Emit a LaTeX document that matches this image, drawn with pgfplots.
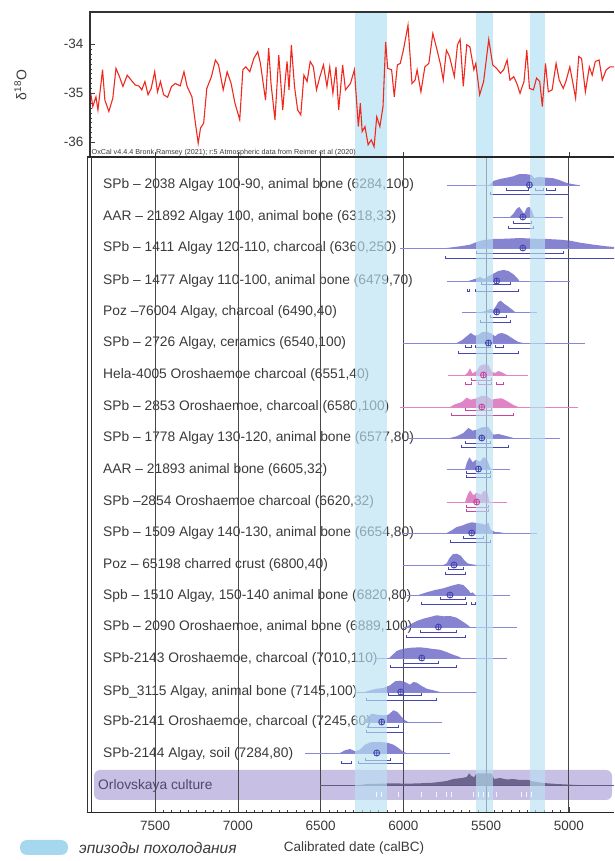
\documentclass[border=0pt]{standalone}
\usepackage{pgfplots}
\pgfplotsset{compat=1.18}
\usepackage{fontspec}
\setmainfont{Liberation Sans}
\definecolor{dpur}{RGB}{104,100,196}
\definecolor{lpur}{RGB}{135,135,215}
\definecolor{bpur}{RGB}{70,70,175}
\definecolor{dpink}{RGB}{212,92,178}
\definecolor{lpink}{RGB}{228,130,195}
\definecolor{bpink}{RGB}{200,70,160}
\definecolor{coldtop}{RGB}{203,234,247}
\definecolor{cold}{RGB}{185,225,243}
\definecolor{legblue}{RGB}{165,215,238}
\definecolor{orl}{RGB}{200,192,228}
\definecolor{orld}{RGB}{98,92,132}
\definecolor{redl}{RGB}{240,40,30}
\definecolor{txt}{RGB}{58,58,58}
\pgfplotsset{
  dist/.style={fill=dpur, fill opacity=0.8, draw=none, mark=none},
  distp/.style={fill=dpink, fill opacity=0.75, draw=none, mark=none},
  hl/.style={draw=lpur, line width=0.5pt, mark=none},
  hlp/.style={draw=lpink, line width=0.5pt, mark=none},
  med/.style={only marks, mark=oplus, mark size=3pt, mark options={draw=bpur, fill=white, line width=0.9pt}},
  medp/.style={only marks, mark=oplus, mark size=3pt, mark options={draw=bpink, fill=white, line width=0.9pt}},
}
\newcommand{\br}[5][bpur]{\addplot[draw=#1, line width=0.9pt, mark=none] coordinates {(#2,#5) (#2,#4) (#3,#4) (#3,#5)};}
\newcommand{\lab}[2]{\node[anchor=west, text=txt, font=\fontsize{13.8}{16}\selectfont, inner sep=0pt] at (103pt,#1pt) {#2};}
\begin{document}
\begin{tikzpicture}
\useasboundingbox (0,0) rectangle (614pt,861pt);
% Orlovskaya band
\fill[orl, rounded corners=6pt] (94pt,61pt) rectangle (612pt,91pt);
% row labels (y = 861 - y_img)
\lab{676}{SPb – 2038 Algay 100-90, animal bone (6284,100)}
\lab{644}{AAR – 21892 Algay 100, animal bone (6318,33)}
\lab{613}{SPb – 1411 Algay 120-110, charcoal (6360,250)}
\lab{580}{SPb – 1477 Algay 110-100, animal bone (6479,70)}
\lab{549}{Poz –76004 Algay, charcoal (6490,40)}
\lab{518}{SPb – 2726 Algay, ceramics (6540,100)}
\lab{486}{Hela-4005 Oroshaemoe charcoal (6551,40)}
\lab{454}{SPb – 2853 Oroshaemoe, charcoal (6580,100)}
\lab{423}{SPb – 1778 Algay 130-120, animal bone (6577,80)}
\lab{391}{AAR – 21893 animal bone (6605,32)}
\lab{359}{SPb –2854 Oroshaemoe charcoal (6620,32)}
\lab{328}{SPb – 1509 Algay 140-130, animal bone (6654,80)}
\lab{296}{Poz – 65198 charred crust (6800,40)}
\lab{265}{Spb – 1510 Algay, 150-140 animal bone (6820,80)}
\lab{234}{SPb – 2090 Oroshaemoe, animal bone (6889,100)}
\lab{202}{SPb-2143 Oroshaemoe, charcoal (7010,110)}
\lab{169}{SPb\_3115 Algay, animal bone (7145,100)}
\lab{139}{SPb-2141 Oroshaemoe, charcoal (7245,60)}
\lab{107}{SPb-2144 Algay, soil (7284,80)}
\node[anchor=west, text=orld!80!black, font=\fontsize{13.8}{16}\selectfont, inner sep=0pt] at (98pt,75pt) {Orlovskaya culture};

% ---------------- top panel -----------------
\begin{axis}[
  at={(90pt,704pt)}, anchor=south west, scale only axis,
  width=524pt, height=145pt,
  x dir=reverse, xmin=4727, xmax=7894, ymin=-36.30, ymax=-33.34,
  axis line style={draw=none},
  ytick={-36,-35,-34}, minor y tick num=9, ytick pos=left,
  xtick={5000,5500,6000,6500,7000,7500}, xticklabels={}, xtick pos=bottom,
  tick align=inside, major tick length=5pt, minor tick length=2.5pt,
  tick style={draw=black!75, line width=0.5pt},
  yticklabel style={font=\fontsize{13.5}{15}\selectfont, text=txt, xshift=-3pt},
  /pgf/number format/assume math mode=true,
]
\addplot[fill=coldtop, draw=none, mark=none] coordinates {(6294,-36.30) (6294,-33.34) (6100,-33.34) (6100,-36.30)};
\addplot[fill=coldtop, draw=none, mark=none] coordinates {(5560,-36.30) (5560,-33.34) (5459,-33.34) (5459,-36.30)};
\addplot[fill=coldtop, draw=none, mark=none] coordinates {(5236,-36.30) (5236,-33.34) (5145,-33.34) (5145,-36.30)};
\addplot[redl, line width=1.1pt, mark=none] coordinates {
(7894,-34.90) (7877,-35.27) (7858,-35.07) (7846,-35.34) (7818,-34.52) (7804,-35.14) (7780,-35.37) (7756,-35.10) (7737,-34.49) (7716,-34.66) (7695,-34.86) (7669,-34.63) (7645,-34.73) (7621,-34.83) (7598,-34.85) (7581,-34.93) (7562,-34.76) (7543,-35.03) (7524,-34.90) (7503,-34.56) (7486,-34.97) (7468,-34.76) (7449,-35.03) (7425,-35.08) (7401,-34.86) (7378,-34.80) (7349,-34.85) (7326,-34.56) (7307,-34.86) (7278,-35.07) (7254,-35.68) (7240,-36.02) (7226,-35.71) (7207,-35.61) (7188,-34.90) (7160,-34.66) (7136,-34.32) (7117,-34.42) (7089,-34.93) (7065,-34.56) (7041,-34.80) (7018,-35.20) (6989,-35.54) (6970,-34.52) (6952,-34.46) (6928,-34.56) (6904,-34.29) (6880,-34.15) (6864,-34.39) (6833,-35.14) (6814,-34.08) (6800,-34.80) (6776,-35.54) (6753,-34.22) (6729,-35.34) (6715,-34.76) (6703,-34.35) (6691,-34.93) (6677,-34.01) (6658,-34.86) (6639,-35.34) (6620,-35.44) (6601,-34.63) (6582,-34.76) (6563,-34.35) (6544,-34.46) (6525,-34.93) (6507,-34.69) (6483,-34.42) (6462,-34.86) (6445,-34.46) (6426,-35.00) (6407,-34.46) (6391,-35.34) (6367,-34.42) (6350,-34.93) (6320,-34.80) (6296,-34.52) (6272,-35.68) (6260,-35.20) (6249,-35.78) (6232,-35.68) (6213,-36.05) (6194,-35.95) (6177,-36.09) (6161,-35.48) (6142,-35.68) (6123,-35.27) (6107,-33.95) (6095,-34.49) (6071,-34.52) (6055,-35.07) (6036,-34.42) (6019,-34.39) (6000,-34.12) (5972,-33.61) (5948,-34.80) (5929,-34.73) (5917,-34.52) (5894,-34.97) (5870,-34.46) (5846,-34.39) (5822,-33.78) (5799,-34.08) (5775,-34.42) (5759,-34.73) (5740,-34.12) (5721,-34.25) (5711,-34.39) (5692,-34.66) (5673,-34.01) (5657,-33.90) (5638,-34.86) (5617,-34.01) (5598,-34.05) (5574,-34.52) (5562,-34.39) (5539,-35.03) (5515,-34.76) (5484,-33.90) (5460,-34.42) (5437,-34.49) (5413,-34.59) (5394,-34.52) (5373,-34.32) (5356,-34.73) (5333,-34.66) (5314,-34.80) (5295,-35.00) (5271,-34.76) (5254,-34.12) (5238,-34.90) (5214,-34.93) (5195,-34.69) (5176,-34.76) (5160,-35.27) (5141,-34.39) (5124,-34.97) (5101,-34.93) (5077,-34.39) (5058,-34.73) (5034,-34.90) (5018,-34.76) (4994,-34.46) (4975,-34.80) (4959,-35.10) (4940,-34.25) (4923,-34.29) (4900,-34.97) (4876,-34.46) (4859,-34.63) (4840,-34.35) (4817,-34.32) (4798,-34.73) (4774,-34.52) (4750,-34.46) (4727,-34.46)};
\end{axis}

% ---------------- bottom panel -----------------
\begin{axis}[
  at={(90pt,48pt)}, anchor=south west, scale only axis,
  width=524pt, height=656pt,
  x dir=reverse, xmin=4727, xmax=7894, ymin=48, ymax=704,
  axis line style={draw=none}, ytick=\empty,
  xtick={5000,5500,6000,6500,7000,7500}, minor x tick num=9, xtick pos=bottom,
  tick align=inside, major tick length=6pt, minor tick length=3pt,
  tick style={draw=black!75, line width=0.5pt},
  xmajorgrids, major grid style={draw=black!72, line width=0.8pt},
  xticklabel style={font=\fontsize{13.5}{15}\selectfont, text=txt, yshift=-5pt},
  /pgf/number format/1000 sep={}, /pgf/number format/assume math mode=true,
]
% Row 1
\addplot[hl] coordinates {(5738,676) (4932,676)};
\addplot[dist] coordinates {(5480,676) (5456,680) (5416,682) (5375,683.3) (5335,684.7) (5305,686.7) (5264,687) (5224,686) (5210,682.7) (5184,684) (5133,683.3) (5093,682.7) (5053,680.7) (5012,678) (4972,676.7) (4942,676)};
\br{5375}{5244}{671}{673}\br{5204}{5154}{671}{673}\br{5133}{5083}{671}{673}
\br{5476}{5002}{667}{669}
\addplot[med] coordinates {(5238,676)};
% Row 2
\addplot[hl] coordinates {(5456,644) (5033,644)};
\addplot[dist] coordinates {(5355,644) (5335,647.3) (5315,652.3) (5299,654) (5285,650.7) (5270,647.3) (5254,653.3) (5238,654) (5224,650.7) (5210,644)};
\br{5335}{5224}{638}{640}
\br{5365}{5214}{633}{635}
\addplot[med] coordinates {(5278,644)};
% Row 3
\addplot[hl] coordinates {(6020,613) (4727,613)};
\addplot[dist] coordinates {(5738,613) (5657,614.7) (5597,616.3) (5557,619) (5516,621) (5456,622) (5375,622.3) (5295,623) (5214,622.3) (5133,622) (5053,621.3) (4992,620.3) (4932,618.3) (4851,616.3) (4771,614.7) (4727,614) (4727,613)};
\br{5557}{5033}{608}{610}
\br{5744}{4700}{603}{605}
\addplot[med] coordinates {(5278,613)};
% Row 4
\addplot[hl] coordinates {(5738,580) (4992,580)};
\addplot[dist] coordinates {(5607,580) (5587,581) (5557,582.7) (5536,584) (5512,582) (5486,584.7) (5456,587.3) (5426,590) (5395,591) (5365,590) (5335,586.7) (5311,582.7) (5299,580)};
\br{5526}{5355}{577}{579}
\br{5567}{5305}{570}{572}\br{5612}{5602}{570}{572}
\addplot[med] coordinates {(5436,580)};
% Row 5
\addplot[hl] coordinates {(5647,549) (5194,549)};
\addplot[dist] coordinates {(5526,549) (5496,550.3) (5472,552.3) (5456,551) (5440,555) (5426,559) (5412,560.3) (5391,557.3) (5371,555) (5345,551.7) (5325,549)};
\br{5476}{5375}{544}{546}
\br{5536}{5355}{539}{541}
\addplot[med] coordinates {(5436,549)};
% Row 6
\addplot[hl] coordinates {(6000,518) (4902,518)};
\addplot[dist] coordinates {(5678,518) (5647,520.7) (5617,524.7) (5593,528) (5567,525.3) (5546,526.3) (5526,528.7) (5496,529.3) (5466,527.3) (5446,524.7) (5426,527.3) (5405,528) (5375,526.3) (5335,522) (5305,519) (5275,518)};
\br{5627}{5587}{514}{516}\br{5567}{5476}{514}{516}\br{5446}{5395}{514}{516}
\br{5667}{5305}{508}{510}
\addplot[med] coordinates {(5486,518)};
% Row 7 (pink)
\addplot[hlp] coordinates {(5728,486) (5244,486)};
\addplot[distp] coordinates {(5627,486) (5611,488.7) (5597,492.7) (5583,487.7) (5557,490) (5536,495.3) (5512,496.7) (5486,496) (5466,489.3) (5446,488) (5426,490) (5405,488.7) (5375,486)};
\br[bpink]{5587}{5466}{481}{483}
\br[bpink]{5627}{5587}{477}{479}\br[bpink]{5546}{5466}{477}{479}\br[bpink]{5436}{5395}{477}{479}
\addplot[medp] coordinates {(5516,486)};
% Row 8 (pink)
\addplot[hlp] coordinates {(6020,454) (4942,454)};
\addplot[distp] coordinates {(5718,454) (5688,456.7) (5647,459) (5617,463.3) (5593,461.3) (5557,462.7) (5526,465.3) (5496,465) (5466,461.3) (5436,462.3) (5405,462.7) (5375,460) (5335,456) (5305,454)};
\br[bpink]{5627}{5466}{451}{453}
\br[bpink]{5708}{5335}{446}{448}
\addplot[medp] coordinates {(5526,454)};
% Row 9
\addplot[hl] coordinates {(5980,423) (5053,423)};
\addplot[dist] coordinates {(5718,423) (5678,424.7) (5637,428) (5607,433) (5581,430.3) (5557,431.3) (5526,433.7) (5486,434) (5456,426.3) (5426,427) (5395,425.7) (5355,424) (5335,423)};
\br{5627}{5476}{418}{420}
\br{5647}{5365}{414}{416}
\addplot[med] coordinates {(5526,423)};
% Row 10
\addplot[hl] coordinates {(5738,392) (5355,392)};
\addplot[dist] coordinates {(5627,392) (5617,398) (5601,403.7) (5581,398.7) (5561,401.3) (5536,399.3) (5516,403.7) (5496,402) (5480,395.3) (5472,392)};
\br{5617}{5476}{388}{390}
\br{5617}{5476}{384}{386}
\addplot[med] coordinates {(5546,392)};
% Row 11 (pink)
\addplot[hlp] coordinates {(5738,359) (5375,359)};
\addplot[distp] coordinates {(5627,359) (5613,365.7) (5597,370.7) (5577,365.7) (5557,368.3) (5532,366.3) (5512,370.3) (5492,368.3) (5480,359)};
\br[bpink]{5617}{5486}{354}{356}
\br[bpink]{5617}{5486}{350}{352}
\addplot[medp] coordinates {(5557,359)};
% Row 12
\addplot[hl] coordinates {(6000,328) (5194,328)};
\addplot[dist] coordinates {(5738,328) (5708,330.7) (5678,334) (5647,335.3) (5617,337.3) (5587,338.7) (5557,338) (5526,337.3) (5506,336.3) (5486,338) (5472,331.3) (5446,329) (5416,328.7) (5395,328)};
\br{5637}{5516}{323}{325}
\br{5718}{5476}{319}{321}
\addplot[med] coordinates {(5587,328)};
% Row 13
\addplot[hl] coordinates {(6000,296) (5476,296)};
\addplot[dist] coordinates {(5758,296) (5738,297.7) (5722,302.7) (5702,306.7) (5678,307.3) (5653,305.3) (5633,301) (5613,297.7) (5587,296.7) (5557,296)};
\br{5728}{5637}{292}{294}
\br{5748}{5627}{287}{289}
\addplot[med] coordinates {(5694,296)};
% Row 14
\addplot[hl] coordinates {(5980,266) (5355,266)};
\addplot[dist] coordinates {(5909,266) (5859,268.7) (5808,271) (5758,272.7) (5708,275.3) (5667,277) (5637,276) (5607,271) (5593,267.7) (5581,268.7) (5567,266)};
\br{5778}{5627}{262}{264}
\br{5889}{5617}{257}{259}\br{5587}{5567}{257}{259}
\addplot[med] coordinates {(5718,266)};
% Row 15
\addplot[hl] coordinates {(6000,234) (5315,234)};
\addplot[dist] coordinates {(5980,234) (5950,237.3) (5919,240) (5879,242.3) (5839,244) (5798,245.7) (5758,244.7) (5718,245) (5678,243.3) (5647,240) (5617,236.7) (5597,234)};
\br{5899}{5678}{229}{231}
\br{5980}{5627}{224}{226}
\addplot[med] coordinates {(5788,234)};
% Row 16
\addplot[hl] coordinates {(6161,203) (5375,203)};
\addplot[dist] coordinates {(6085,203) (6060,207) (6040,210) (6020,211.3) (5990,212.5) (5950,213.3) (5900,213.7) (5860,213) (5820,212) (5780,211.3) (5740,209) (5700,206.3) (5667,204.5) (5650,203)};
\br{6000}{5788}{198}{200}
\br{6080}{5678}{194}{196}
\addplot[med] coordinates {(5889,203)};
% Row 17
\addplot[hl] coordinates {(6282,169) (5556,169)};
\addplot[dist] coordinates {(6232,169) (6201,170.7) (6161,172.3) (6121,173) (6080,175.7) (6050,179.7) (6020,180.3) (5990,179) (5960,176.3) (5939,179) (5919,178.3) (5889,175) (5859,172.3) (5819,170.7) (5778,169)};
\br{6090}{5889}{166}{168}
\br{6226}{5798}{161}{163}
\addplot[med] coordinates {(6016,169)};
% Row 18
\addplot[hl] coordinates {(6241,139) (5768,139)};
\addplot[dist] coordinates {(6232,139) (6217,144) (6191,147.3) (6161,146.3) (6121,145.7) (6090,146.3) (6060,150.7) (6036,149) (6010,144) (5990,140.7) (5970,139)};
\br{6211}{6030}{134}{136}
\br{6222}{6000}{129}{131}
\addplot[med] coordinates {(6131,139)};
% Row 19
\addplot[hl] coordinates {(6594,108) (5718,108)};
\addplot[dist] coordinates {(6383,108) (6353,110.7) (6322,112) (6292,109.7) (6262,111.3) (6232,116.3) (6201,118.7) (6161,119) (6121,118.7) (6090,118) (6060,116.3) (6030,113) (6000,109) (5980,108)};
\br{6232}{6080}{101}{103}
\br{6272}{6000}{98}{100}\br{6373}{6312}{98}{100}
\addplot[med] coordinates {(6161,108)};
% Row 20 Orlovskaya culture
\addplot[draw=orld, line width=0.6pt, mark=none] coordinates {(6504,76) (4730,76)};
\addplot[fill=orld, fill opacity=0.9, draw=none, mark=none] coordinates {(6262,76) (6221,77) (6141,77.3) (6060,77.7) (5980,77.3) (5899,77.7) (5819,78.3) (5738,80) (5698,82) (5647,83) (5617,84) (5603,87.7) (5587,85) (5573,83.7) (5557,87.7) (5466,87.7) (5452,82) (5416,83) (5375,81.5) (5335,82) (5295,81) (5244,81) (5214,79.5) (5154,78) (5073,77) (4952,76)};
\addplot[only marks, mark=|, mark size=2.5pt, mark options={draw=white, line width=1.2pt, opacity=0.85}] coordinates {(6161,66) (6131,66) (6030,66) (5889,66) (5798,66) (5738,66) (5708,66) (5577,66) (5546,66) (5516,66) (5486,66) (5436,66) (5284,66) (5254,66) (5224,66)};
% cold episodes (on top)
\addplot[fill=cold, fill opacity=0.65, draw=none, mark=none] coordinates {(6294,48) (6294,704) (6100,704) (6100,48)};
\addplot[fill=cold, fill opacity=0.65, draw=none, mark=none] coordinates {(5560,48) (5560,704) (5459,704) (5459,48)};
\addplot[fill=cold, fill opacity=0.65, draw=none, mark=none] coordinates {(5236,48) (5236,704) (5145,704) (5145,48)};
\end{axis}

% frames
\draw[black!80, line width=1.3pt] (90pt,704pt) -- (90pt,849pt) -- (614pt,849pt);
\draw[black!85, line width=1.6pt] (87pt,704pt) -- (614pt,704pt);
\draw[black!80, line width=0.7pt] (87.5pt,48pt) -- (87.5pt,704pt);
\draw[black!80, line width=0.7pt] (91pt,48pt) -- (91pt,704pt);
\draw[black!85, line width=1pt] (87pt,48pt) -- (614pt,48pt);
% texts
\node[anchor=south west, inner sep=0.5pt, text=txt, font=\fontsize{7.2}{8}\selectfont] at (91pt,704.5pt) {OxCal v4.4.4 Bronk Ramsey (2021); r:5 Atmospheric data from Reimer et al (2020)};
\node[rotate=90, text=txt, font=\fontsize{14}{16}\selectfont] at (20.5pt,776pt) {δ\textsuperscript{18}O};
\fill[legblue, rounded corners=7pt] (20pt,6pt) rectangle (68pt,21pt);
\node[anchor=west, text=txt, font=\fontsize{15.5}{18}\selectfont\itshape, inner sep=0pt] at (79pt,13.5pt) {эпизоды похолодания};
\node[text=txt, font=\fontsize{13.5}{16}\selectfont, inner sep=0pt] at (354pt,13pt) {Calibrated date (calBC)};
\end{tikzpicture}
\end{document}
